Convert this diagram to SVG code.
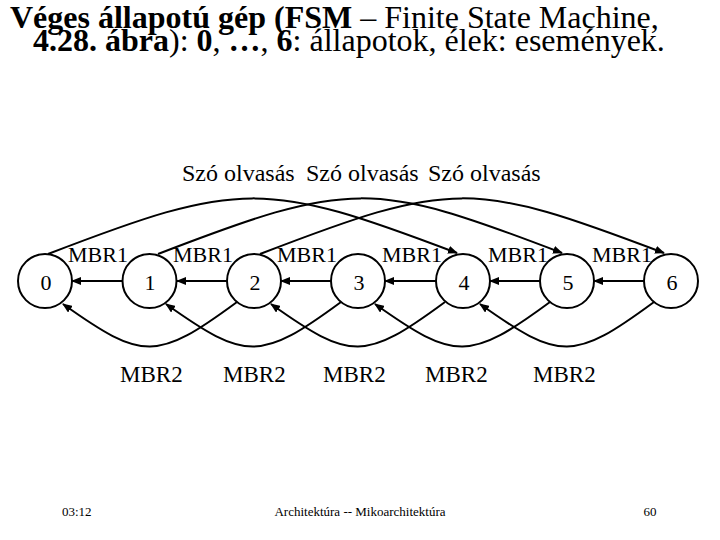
<svg xmlns="http://www.w3.org/2000/svg" width="720" height="540" viewBox="0 0 720 540">
  <style>
    text { font-family: "Liberation Serif", "Times New Roman", serif; fill: #000; }
    .title { font-size: 32px; }
    .b { font-weight: bold; }
    .node circle { fill: #fff; stroke: #000; stroke-width: 2; }
    .node text { font-size: 22px; text-anchor: middle; }
    .edge { fill: none; stroke: #000; stroke-width: 2; marker-end: url(#arrow); }
    .lbl1 { font-size: 22px; }
    .lbl2 { font-size: 23px; }
    .lblw { font-size: 24px; }
    .foot { font-size: 13px; }
  </style>
  <defs>
    <marker id="arrow" viewBox="0 0 10 8" refX="9" refY="4" markerWidth="10" markerHeight="8" markerUnits="userSpaceOnUse" orient="auto">
      <path d="M0,0 L10,4 L0,8 Z" fill="#000"/>
    </marker>
  </defs>
  <rect width="720" height="540" fill="#fff"/>

  <g id="title">
    <text class="title" x="10" y="28"><tspan class="b">Véges állapotú gép (FSM</tspan> – Finite State Machine,</text>
    <text class="title" x="33" y="51"><tspan class="b">4.28. ábra</tspan>): <tspan class="b">0</tspan>, <tspan class="b">…</tspan>, <tspan class="b">6</tspan>: állapotok, élek: események.</text>
  </g>

  <g id="connectors">
    <!-- MBR1: k+1 -> k -->
    <path class="edge" d="M122,281 L72,281"/>
    <path class="edge" d="M227,281 L177,281"/>
    <path class="edge" d="M331,281 L281,281"/>
    <path class="edge" d="M436,281 L385,281"/>
    <path class="edge" d="M540,281 L490,281"/>
    <path class="edge" d="M644,281 L594,281"/>
    <!-- Szó olvasás: k -> k+4 -->
    <path class="edge" d="M48,254 C240,180 265,180 457,253"/>
    <path class="edge" d="M158,254 C350,180 372,180 562,253"/>
    <path class="edge" d="M260,254 C452,180 472,180 664,253"/>
    <!-- MBR2: k -> k-2 -->
    <path class="edge" d="M237,302 C157,361 143,361 63,304"/>
    <path class="edge" d="M341,302 C261,361 246,361 166,304"/>
    <path class="edge" d="M445,302 C365,361 351,361 271,304"/>
    <path class="edge" d="M550,302 C470,361 455,361 375,304"/>
    <path class="edge" d="M654,302 C574,361 560,361 480,304"/>
  </g>

  <g id="node0" class="node"><circle cx="45" cy="281" r="27"/><text x="46" y="290">0</text></g>
  <g id="node1" class="node"><circle cx="149.5" cy="281" r="27"/><text x="150" y="290">1</text></g>
  <g id="node2" class="node"><circle cx="254" cy="281" r="27"/><text x="255" y="290">2</text></g>
  <g id="node3" class="node"><circle cx="358" cy="281" r="27"/><text x="359" y="290">3</text></g>
  <g id="node4" class="node"><circle cx="463" cy="281" r="27"/><text x="464" y="290">4</text></g>
  <g id="node5" class="node"><circle cx="567" cy="281" r="27"/><text x="568" y="290">5</text></g>
  <g id="node6" class="node"><circle cx="671" cy="281" r="27"/><text x="672" y="290">6</text></g>

  <g id="labels">
    <text class="lblw" x="182" y="181">Szó olvasás</text>
    <text class="lblw" x="306" y="181">Szó olvasás</text>
    <text class="lblw" x="428" y="181">Szó olvasás</text>
    <text class="lbl1" x="68" y="262">MBR1</text>
    <text class="lbl1" x="173" y="262">MBR1</text>
    <text class="lbl1" x="277" y="262">MBR1</text>
    <text class="lbl1" x="382" y="262">MBR1</text>
    <text class="lbl1" x="488" y="262">MBR1</text>
    <text class="lbl1" x="592" y="262">MBR1</text>
    <text class="lbl2" x="120" y="382">MBR2</text>
    <text class="lbl2" x="223" y="382">MBR2</text>
    <text class="lbl2" x="323" y="382">MBR2</text>
    <text class="lbl2" x="425" y="382">MBR2</text>
    <text class="lbl2" x="533" y="382">MBR2</text>
  </g>

  <g id="footer">
    <text class="foot" x="62" y="516">03:12</text>
    <text class="foot" x="360" y="516" text-anchor="middle">Architektúra -- Mikoarchitektúra</text>
    <text class="foot" x="650" y="516" text-anchor="middle">60</text>
  </g>
</svg>
